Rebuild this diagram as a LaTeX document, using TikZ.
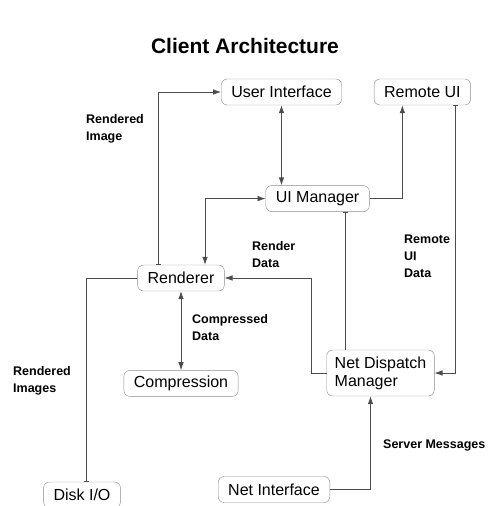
\documentclass[tikz,border=0pt]{standalone}
\usepackage{fontspec}
\setmainfont{Liberation Sans}
\usetikzlibrary{arrows.meta, positioning}

\begin{document}
\begin{tikzpicture}[x=1pt, y=-1pt,
  box/.style = {draw = black!45, rounded corners = 6pt, font = \fontsize{16}{18}\selectfont,
    inner xsep = 10pt, minimum height = 26pt},
  lbl/.style = {font = \bfseries\fontsize{12.5}{17}\selectfont, align = left, inner sep = 0pt, anchor = west},
  wire/.style = {draw = black!70, line width = .7pt},
  arrow/.style = {wire, -{Latex[length=8pt, width=5.5pt]}},
  both/.style = {wire, {Latex[length=8pt, width=5.5pt]}-{Latex[length=8pt, width=5.5pt]}},
  tick/.style = {wire, -{Bar[width=5pt]}},
  tickarrow/.style = {wire, {Bar[width=5pt]}-{Latex[length=8pt, width=5.5pt]}}]
\useasboundingbox (0,0) rectangle (493,506);
\node[font = \bfseries\fontsize{21}{24}\selectfont] (title) at (245,46) {Client Architecture};
\node[box] (renderer) at (181,278) {Renderer};
\node[box, below = 79pt of renderer] (compression) {Compression};
\node[box, above right = 53pt and 41pt of renderer] (uim) {UI Manager};
\node[box] (ui) at (281.5,92) {User Interface};
\node[box, right = 32pt of ui] (remote) {Remote UI};
\node[box, align = left, inner xsep = 8pt, minimum height = 46pt] (ndm) at (380.5,373) {Net Dispatch\\Manager};
\node[box] (netif) at (274,489.5) {Net Interface};
\node[box] (disk) at (82,495) {Disk I/O};
% labels
\node[lbl] (rimg) at (86,129) {Rendered\\Image};
\node[lbl] (rdata) at (252,254.5) {Render\\Data};
\node[lbl] (ruidata) at (404,256) {Remote\\UI\\Data};
\node[lbl] (cdata) at (192,327.5) {Compressed\\Data};
\node[lbl] (rimgs) at (13,380.5) {Rendered\\Images};
\node[lbl] (smsg) at (383,445) {Server Messages};
% connectors
\draw[tickarrow] ([xshift=-23pt]renderer.north) |- (ui.west);
\draw[both] (ui) -- (ui |- uim.north);
\draw[arrow] (uim.east) -| ([xshift=-20pt]remote.south);
\draw[both] (uim.west) -| ([xshift=24pt]renderer.north);
\draw[tick] ([xshift=-35pt]ndm.north) -- ([xshift=-35pt]ndm.north |- uim.south);
\draw[arrow] (ndm.west) -- ++(-15,0) |- (renderer.east);
\draw[tickarrow] ([xshift=33pt]remote.south) |- (ndm.east);
\draw[both] (renderer) -- (compression);
\draw[tick] (renderer.west) -| ([xshift=4pt]disk.north);
\draw[arrow] (netif.east) -| ([xshift=-10pt]ndm.south);
\end{tikzpicture}
\end{document}
